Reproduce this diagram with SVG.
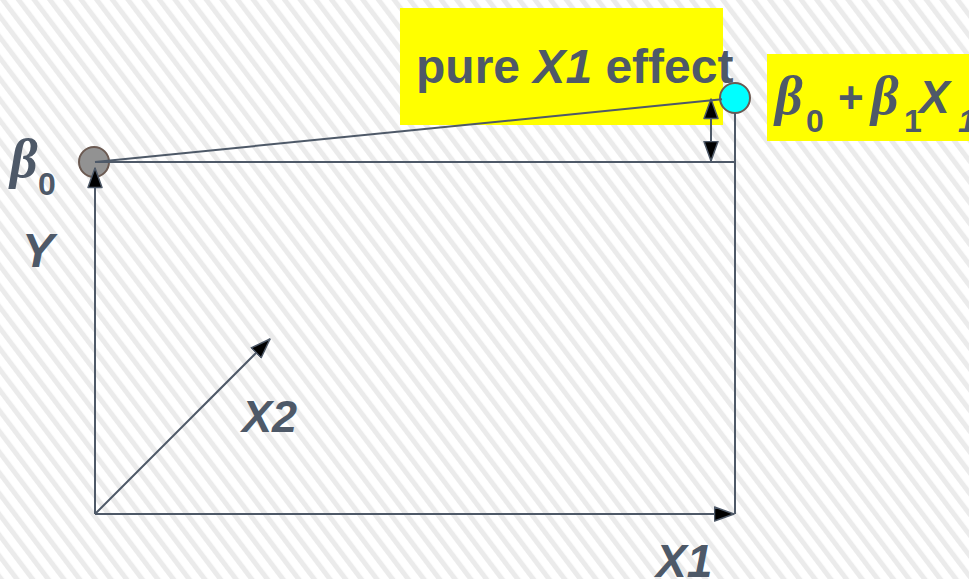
<svg xmlns="http://www.w3.org/2000/svg" width="969" height="579" viewBox="0 0 969 579">
  <defs>
    <pattern id="stripes" patternUnits="userSpaceOnUse" width="12.5" height="12.5" patternTransform="rotate(-37)">
      <rect x="0" y="0" width="12.5" height="12.5" fill="#ffffff"/>
      <rect x="0" y="0" width="5" height="12.5" fill="#ebebeb"/>
    </pattern>
    <marker id="arrow" viewBox="0 0 22 16" markerUnits="userSpaceOnUse" markerWidth="22" markerHeight="16" refX="20.5" refY="8" orient="auto-start-reverse">
      <path d="M1,1 L20.5,8 L1,15 Z" fill="#000000" stroke="#4e5968" stroke-width="1.5" stroke-linejoin="round"/>
    </marker>
    <style>
      .ln { stroke: #4e5968; stroke-width: 2; fill: none; }
      .lbl { font-family: "Liberation Sans", Arial, sans-serif; font-weight: bold; fill: #4e5968; }
      .it { font-style: italic; }
      .greek { font-family: "Liberation Serif", "Times New Roman", serif; font-style: italic; font-weight: bold; fill: #4e5968; }
      .hl { fill: #ffff00; }
      .pt { stroke: #6b5a52; stroke-width: 2; }
    </style>
  </defs>

  <rect x="0" y="0" width="969" height="579" fill="url(#stripes)"/>

  <g id="highlight-effect">
    <rect class="hl" x="400" y="8" width="323" height="117"/>
  </g>
  <g id="highlight-formula">
    <rect class="hl" x="767" y="54" width="202" height="87"/>
  </g>

  <g id="point-b0">
    <circle class="pt" cx="94" cy="162" r="15" fill="#929292"/>
  </g>
  <g id="point-b0b1x1">
    <circle class="pt" cx="735" cy="98" r="15" fill="#00ffff"/>
  </g>

  <g id="connectors">
    <line class="ln" x1="95" y1="162" x2="722" y2="99.3"/>
    <line class="ln" x1="95" y1="162" x2="735" y2="162"/>
    <line class="ln" x1="735" y1="113" x2="735" y2="514"/>
    <line class="ln" x1="95" y1="514" x2="95" y2="168" marker-end="url(#arrow)"/>
    <line class="ln" x1="95" y1="514" x2="734" y2="514" marker-end="url(#arrow)"/>
    <line class="ln" x1="95" y1="514" x2="270" y2="339" marker-end="url(#arrow)"/>
    <line class="ln" x1="711" y1="99" x2="711" y2="161" marker-start="url(#arrow)" marker-end="url(#arrow)"/>
  </g>

  <g id="label-effect">
    <text class="lbl" x="416" y="83" font-size="48">pure <tspan class="it">X1</tspan> effect</text>
  </g>
  <g id="label-formula">
    <text class="greek" x="775" y="114" font-size="54">β</text>
    <text class="lbl" x="806" y="132" font-size="32">0</text>
    <text class="lbl" x="838" y="113" font-size="44">+</text>
    <text class="greek" x="871" y="114" font-size="54">β</text>
    <text class="lbl" x="904" y="132" font-size="32">1</text>
    <text class="lbl it" x="919" y="113" font-size="46">X</text>
    <text class="lbl it" x="958" y="132" font-size="32">1</text>
  </g>
  <g id="label-b0">
    <text class="greek" x="10" y="177" font-size="54">β</text>
    <text class="lbl" x="38" y="195" font-size="32">0</text>
  </g>
  <g id="label-y">
    <text class="lbl it" x="22" y="267" font-size="48">Y</text>
  </g>
  <g id="label-x2">
    <text class="lbl it" x="242" y="432" font-size="45">X2</text>
  </g>
  <g id="label-x1">
    <text class="lbl it" x="656" y="577" font-size="46">X1</text>
  </g>
</svg>
